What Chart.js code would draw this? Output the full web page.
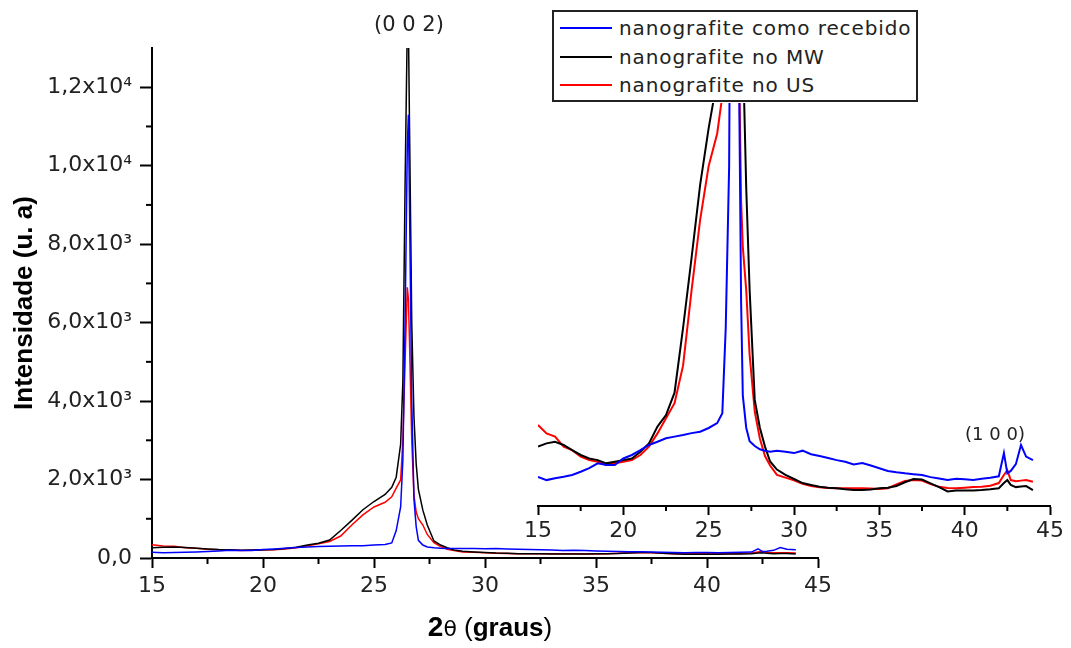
<!DOCTYPE html>
<html>
<head>
<meta charset="utf-8">
<script src="https://cdn.jsdelivr.net/npm/chart.js@4.4.1/dist/chart.umd.min.js"></script>
<style>
html, body { margin: 0; padding: 0; background: #fff; }
#wrap { position: relative; width: 1071px; height: 648px; overflow: hidden; }
#wrap canvas { position: absolute; left: 0; top: 0; }
#legend { position: absolute; left: 552px; top: 10px; width: 362px; height: 88px; border: 2px solid #222; background: #fff; font-family: "DejaVu Sans", sans-serif; font-size: 20px; letter-spacing: 0.9px; color: #222; }
#legend .row { position: absolute; left: 0; height: 28px; line-height: 28px; white-space: nowrap; }
#legend .swatch { position: absolute; left: 6px; top: 13px; width: 52px; height: 2px; }
#legend .txt { position: absolute; left: 65px; top: 0; }
.note { position: absolute; font-family: "DejaVu Sans", sans-serif; color: #222; transform: translateX(-50%); white-space: nowrap; }
</style>
</head>
<body>
<div id="wrap">
  <canvas id="mainChart" width="1071" height="648"></canvas>
  <canvas id="insetChart" width="1071" height="648"></canvas>
  <div id="legend"></div>
  <div class="note" style="left:409px; top:12px; font-size:21px; line-height:24px;">(0 0 2)</div>
  <div class="note" style="left:995px; top:424px; font-size:18px; line-height:20px;">(1 0 0)</div>
</div>
<script>
// 2theta (graus)
let twoTheta = [
  15, 15.5, 16, 16.5, 17, 17.5, 18, 18.5, 19, 19.5,
  20, 20.5, 21, 21.5, 22, 22.5, 23, 23.5, 24, 24.5,
  25, 25.5, 25.8, 26.0, 26.2, 26.3, 26.4, 26.5, 26.55, 26.6,
  26.7, 26.8, 26.9, 27.0, 27.2, 27.4, 27.7, 28.0, 28.3, 28.6,
  29, 29.5, 30, 30.5, 31, 31.5, 32, 32.5, 33, 33.5,
  34, 34.5, 35, 35.5, 36, 36.5, 37, 37.5, 38, 38.5,
  39, 39.5, 40, 40.5, 41, 41.5, 42, 42.3, 42.5, 42.7,
  43, 43.3, 43.6, 44
];
// nanografite como recebido
let recebido = [
  148, 136, 143, 148, 155, 167, 180, 198, 192, 192,
  216, 229, 247, 266, 278, 291, 297, 303, 310, 315,
  329, 347, 384, 700, 1300, 2500, 6000, 10500, 11300, 9000,
  4000, 1500, 800, 450, 330, 280, 262, 250, 245, 241,
  245, 241, 236, 245, 232, 225, 218, 210, 204, 194,
  199, 190, 180, 170, 165, 161, 158, 155, 147, 142,
  136, 141, 139, 136, 141, 145, 150, 236, 161, 170,
  195, 266, 223, 210
];
// nanografite no MW
let noMW = [
  260, 272, 278, 266, 247, 229, 216, 210, 198, 204,
  210, 216, 241, 272, 334, 377, 460, 700, 960, 1230,
  1440, 1620, 1800, 2060, 2900, 4500, 9500, 13600, 13600, 11000,
  6000, 3600, 2400, 1750, 1220, 840, 433, 330, 260, 205,
  175, 155, 140, 125, 118, 111, 108, 106, 102, 99,
  99, 101, 106, 108, 114, 128, 140, 138, 124, 110,
  94, 97, 97, 97, 99, 102, 106, 125, 136, 118,
  110, 112, 114, 99
];
// nanografite no US
let noUS = [
  340, 309, 297, 260, 247, 223, 210, 204, 192, 198,
  204, 210, 229, 260, 309, 365, 421, 560, 840, 1100,
  1300, 1420, 1560, 1780, 1990, 3000, 5000, 6900, 6600, 5500,
  3000, 1600, 1173, 1000, 840, 600, 390, 290, 225, 190,
  155, 145, 135, 122, 114, 109, 107, 106, 106, 106,
  106, 105, 103, 106, 120, 133, 136, 134, 121, 111,
  107, 106, 108, 110, 111, 115, 125, 155, 173, 136,
  132, 134, 136, 130
];

let seriesNames = ["nanografite como recebido", "nanografite no MW", "nanografite no US"];
let seriesColors = ["#0000ff", "#000000", "#ff0000"];
let seriesValues = [recebido, noMW, noUS];

let xTickValues = [15, 20, 25, 30, 35, 40, 45];
let yTickValues = [0, 2000, 4000, 6000, 8000, 10000, 12000];
let yTickText = ["0,0", "2,0x10³", "4,0x10³", "6,0x10³", "8,0x10³", "1,0x10⁴", "1,2x10⁴"];

function makeDatasets(width) {
    let sets = new Array();
    for (let i = 0; i < seriesNames.length; i++) {
        sets.push({
            label: seriesNames[i],
            data: twoTheta.map((t, j) => ({ x: t, y: seriesValues[i][j] })),
            borderColor: seriesColors[i],
            borderWidth: width,
            pointRadius: 0,
            tension: 0,
            fill: false
        });
    }
    return sets;
}

// small ticks half way between the labelled ones
const minorTicks = {
    id: 'minorTicks',
    afterDraw(chart, args, opts) {
        let ctx = chart.ctx;
        ctx.save();
        ctx.strokeStyle = '#000';
        ctx.lineWidth = 2;
        let x = chart.scales.x;
        for (let i = 0; i < xTickValues.length - 1; i++) {
            let px = x.getPixelForValue((xTickValues[i] + xTickValues[i + 1]) / 2);
            ctx.beginPath();
            ctx.moveTo(px, x.top);
            ctx.lineTo(px, x.top + opts.len);
            ctx.stroke();
        }
        let y = chart.scales.y;
        if (y.options.display) {
            for (let i = 0; i < yTickValues.length - 1; i++) {
                let py = y.getPixelForValue((yTickValues[i] + yTickValues[i + 1]) / 2);
                ctx.beginPath();
                ctx.moveTo(y.right, py);
                ctx.lineTo(y.right - opts.len, py);
                ctx.stroke();
            }
        }
        ctx.restore();
    }
};

// x title with mixed fonts: 2θ (graus)
const xTitle = {
    id: 'xTitle',
    afterDraw(chart) {
        let ctx = chart.ctx;
        let parts = [
            ["2", 'bold 28px "Liberation Sans"'],
            ["θ", '22px "DejaVu Sans"'],
            [" (", '26px "Liberation Sans"'],
            ["graus", 'bold 26px "Liberation Sans"'],
            [")", '26px "Liberation Sans"']
        ];
        ctx.save();
        ctx.fillStyle = '#000';
        ctx.textBaseline = 'alphabetic';
        let total = 0;
        parts.forEach(p => { ctx.font = p[1]; total += ctx.measureText(p[0]).width; });
        let area = chart.chartArea;
        let cx = (area.left + area.right) / 2 + 5 - total / 2;
        parts.forEach(p => {
            ctx.font = p[1];
            ctx.fillText(p[0], cx, area.bottom + 78);
            cx += ctx.measureText(p[0]).width;
        });
        ctx.restore();
    }
};

let tickFont = { family: '"DejaVu Sans", sans-serif', size: 22 };

let mainChart = new Chart($("mainChart"), {
    type: 'line',
    data: { datasets: makeDatasets(1.5) },
    plugins: [minorTicks, xTitle],
    options: {
        responsive: false,
        animation: false,
        events: [],
        layout: { padding: { left: 0, top: 48, right: 253, bottom: 0 } },
        plugins: {
            legend: { display: false },
            tooltip: { enabled: false },
            minorTicks: { len: 6 }
        },
        scales: {
            x: {
                type: 'linear', min: 15, max: 45,
                afterBuildTicks: s => { s.ticks = xTickValues.map(v => ({ value: v })); },
                afterFit: s => { s.height = 90; },
                ticks: { font: tickFont, color: '#222', padding: 5, maxRotation: 0, autoSkip: false },
                grid: { drawOnChartArea: false, tickLength: 10, tickWidth: 2, tickColor: '#000' },
                border: { color: '#000', width: 2 }
            },
            y: {
                type: 'linear', min: 0, max: 13000,
                afterBuildTicks: s => { s.ticks = yTickValues.map(v => ({ value: v })); },
                afterFit: s => { s.width = 152; },
                ticks: {
                    font: tickFont, color: '#222', padding: 8,
                    callback: v => yTickText[yTickValues.indexOf(v)]
                },
                grid: { drawOnChartArea: false, tickLength: 12, tickWidth: 2, tickColor: '#000' },
                border: { color: '#000', width: 2 },
                title: {
                    display: true, text: 'Intensidade (u. a)', color: '#000',
                    font: { family: '"Liberation Sans", sans-serif', size: 26, weight: 'bold' },
                    padding: { top: 9, bottom: 0 }
                }
            }
        }
    }
});

let insetChart = new Chart($("insetChart"), {
    type: 'line',
    data: { datasets: makeDatasets(2) },
    plugins: [minorTicks],
    options: {
        responsive: false,
        animation: false,
        events: [],
        layout: { padding: { left: 538, top: 103, right: 21, bottom: 0 } },
        plugins: {
            legend: { display: false },
            tooltip: { enabled: false },
            minorTicks: { len: 5 }
        },
        scales: {
            x: {
                type: 'linear', min: 15, max: 45,
                afterBuildTicks: s => { s.ticks = xTickValues.map(v => ({ value: v })); },
                afterFit: s => { s.height = 142; },
                ticks: { font: tickFont, color: '#222', padding: 3, maxRotation: 0, autoSkip: false },
                grid: { drawOnChartArea: false, tickLength: 9, tickWidth: 2, tickColor: '#000' },
                border: { color: '#000', width: 2 }
            },
            y: { type: 'linear', display: false, min: 40, max: 1533 }
        }
    }
});

function $(id) { return document.getElementById(id); }

// legend box
let legendHtml = "";
for (let i = 0; i < seriesNames.length; i++) {
    legendHtml +=
        '<div class="row" style="top:' + (2 + 28.5 * i) + 'px; width:100%;">' +
            '<div class="swatch" style="background:' + seriesColors[i] + ';"></div>' +
            '<div class="txt">' + seriesNames[i] + '</div>' +
        '</div>';
}
$("legend").innerHTML = legendHtml;
</script>
</body>
</html>
